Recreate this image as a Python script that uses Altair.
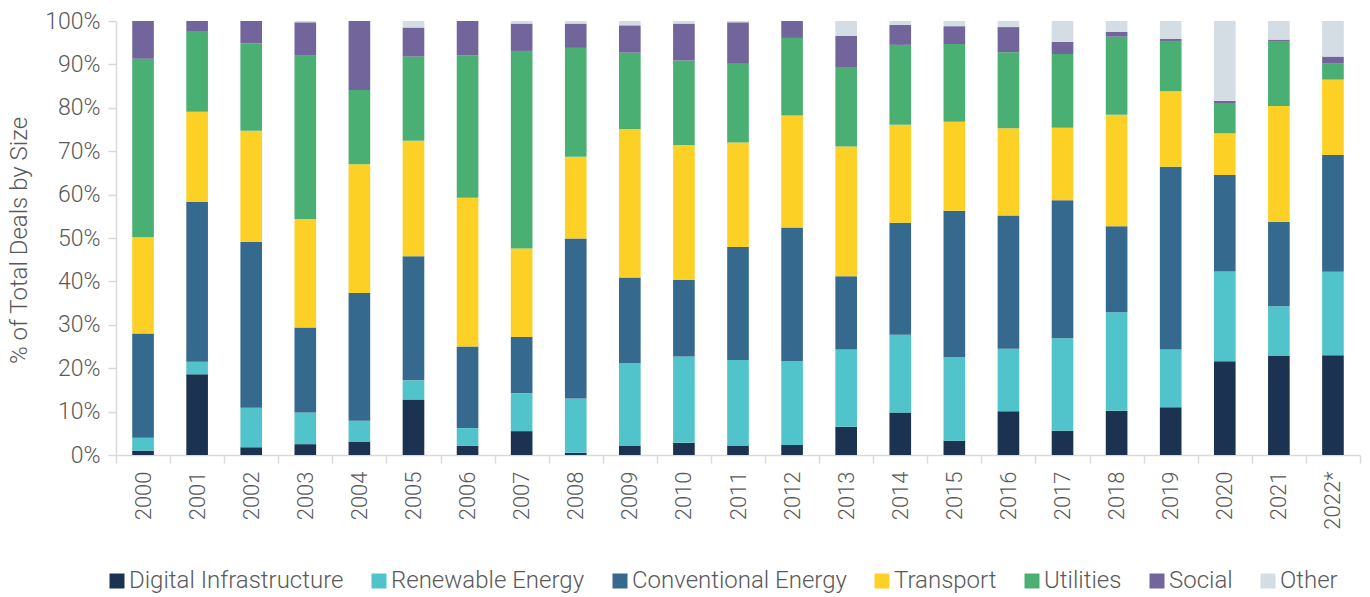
import altair as alt
import pandas as pd

years = ["2000", "2001", "2002", "2003", "2004", "2005", "2006", "2007", "2008", "2009", "2010", "2011",
         "2012", "2013", "2014", "2015", "2016", "2017", "2018", "2019", "2020", "2021", "2022*"]

categories = ["Digital Infrastructure", "Renewable Energy", "Conventional Energy", "Transport",
              "Utilities", "Social", "Other"]
colors = ["#1B3351", "#50C4CA", "#35698D", "#FDD026", "#4AAF73", "#72659C", "#D3DDE3"]

digital = [1.0, 18.6, 1.8, 2.5, 3.1, 12.8, 2.1, 5.5, 0.5, 2.1, 2.8, 2.1, 2.3, 6.5, 9.8, 3.3, 10.1, 5.6, 10.2, 11.0, 21.6, 22.8, 23.0]
renewable = [3.0, 2.9, 9.1, 7.3, 4.8, 4.4, 4.1, 8.7, 12.5, 19.1, 19.9, 19.8, 19.3, 17.8, 17.9, 19.2, 14.4, 21.3, 22.7, 13.3, 20.7, 11.5, 19.2]
conventional = [24.0, 36.8, 38.2, 19.6, 29.4, 28.6, 18.8, 13.0, 36.9, 19.7, 17.6, 26.0, 30.8, 16.9, 25.8, 33.8, 30.7, 31.8, 19.8, 42.1, 22.2, 19.4, 26.9]
transport = [22.2, 20.8, 25.6, 25.0, 29.7, 26.6, 34.3, 20.4, 18.8, 34.2, 31.1, 24.1, 25.8, 29.9, 22.6, 20.5, 20.1, 16.7, 25.7, 17.4, 9.6, 26.7, 17.4]
utilities = [41.1, 18.6, 20.2, 37.6, 17.1, 19.4, 32.8, 45.5, 25.1, 17.6, 19.5, 18.3, 17.9, 18.3, 18.4, 17.9, 17.5, 17.0, 18.0, 11.6, 7.0, 15.0, 3.8]
social = [8.7, 2.3, 5.1, 7.7, 15.9, 6.7, 7.9, 6.3, 5.6, 6.3, 8.5, 9.4, 3.9, 7.2, 4.6, 4.1, 5.8, 2.8, 1.1, 0.5, 0.5, 0.3, 1.5]
other = [0.0, 0.0, 0.0, 0.3, 0.0, 1.5, 0.0, 0.6, 0.6, 1.0, 0.6, 0.3, 0.0, 3.4, 0.9, 1.2, 1.4, 4.8, 2.5, 4.1, 18.4, 4.3, 8.2]

series = [digital, renewable, conventional, transport, utilities, social, other]

rows = []
for ci, (cat, vals) in enumerate(zip(categories, series)):
    for y, v in zip(years, vals):
        rows.append({"Year": y, "Sector": cat, "Value": v, "Order": ci})
df = pd.DataFrame(rows)

FONT = "Roboto"
GRAY = "#595959"
AXIS = "#D9D9D9"

chart = alt.Chart(df).mark_bar(width=alt.RelativeBandSize(0.4)).encode(
    x=alt.X("Year:N", sort=years, title=None,
            scale=alt.Scale(paddingInner=0, paddingOuter=0),
            axis=alt.Axis(labelAngle=-90, tickBand="extent", labelFontSize=22,
                          labelPadding=8, tickSize=8)),
    y=alt.Y("Value:Q", stack="normalize", title="% of Total Deals by Size",
            scale=alt.Scale(domain=[0, 1]),
            axis=alt.Axis(format=".0%", values=[i / 10 for i in range(11)], labelFontSize=23,
                          titleFontSize=24, labelPadding=8, tickSize=8,
                          titleX=-90, titleY=219, titleAngle=-90, titleAlign="center",
                          titleBaseline="alphabetic", grid=False)),
    color=alt.Color("Sector:N", scale=alt.Scale(domain=categories, range=colors),
                    legend=alt.Legend(title=None, orient="none", direction="horizontal",
                                      legendX=-11, legendY=548, symbolType="square",
                                      symbolSize=225, symbolStrokeWidth=0,
                                      labelFontSize=24, labelFont=FONT, labelFontWeight=300,
                                      labelColor=GRAY, columnPadding=23, labelOffset=0,
                                      labelLimit=0, columns=7)),
    order=alt.Order("Order:Q", sort="ascending"),
).properties(
    width=1244, height=434,
    autosize=alt.AutoSizeParams(type="none"),
    padding={"left": 108, "top": 13, "right": 2, "bottom": 142},
).configure_view(stroke=None).configure_axis(
    labelFont=FONT, titleFont=FONT, labelFontWeight=300, titleFontWeight=300,
    labelColor=GRAY, titleColor=GRAY, domainColor=AXIS, tickColor=AXIS,
    domainWidth=1.5, tickWidth=1.5,
)

chart.save("out.html", embed_options={"renderer": "svg", "actions": False})
